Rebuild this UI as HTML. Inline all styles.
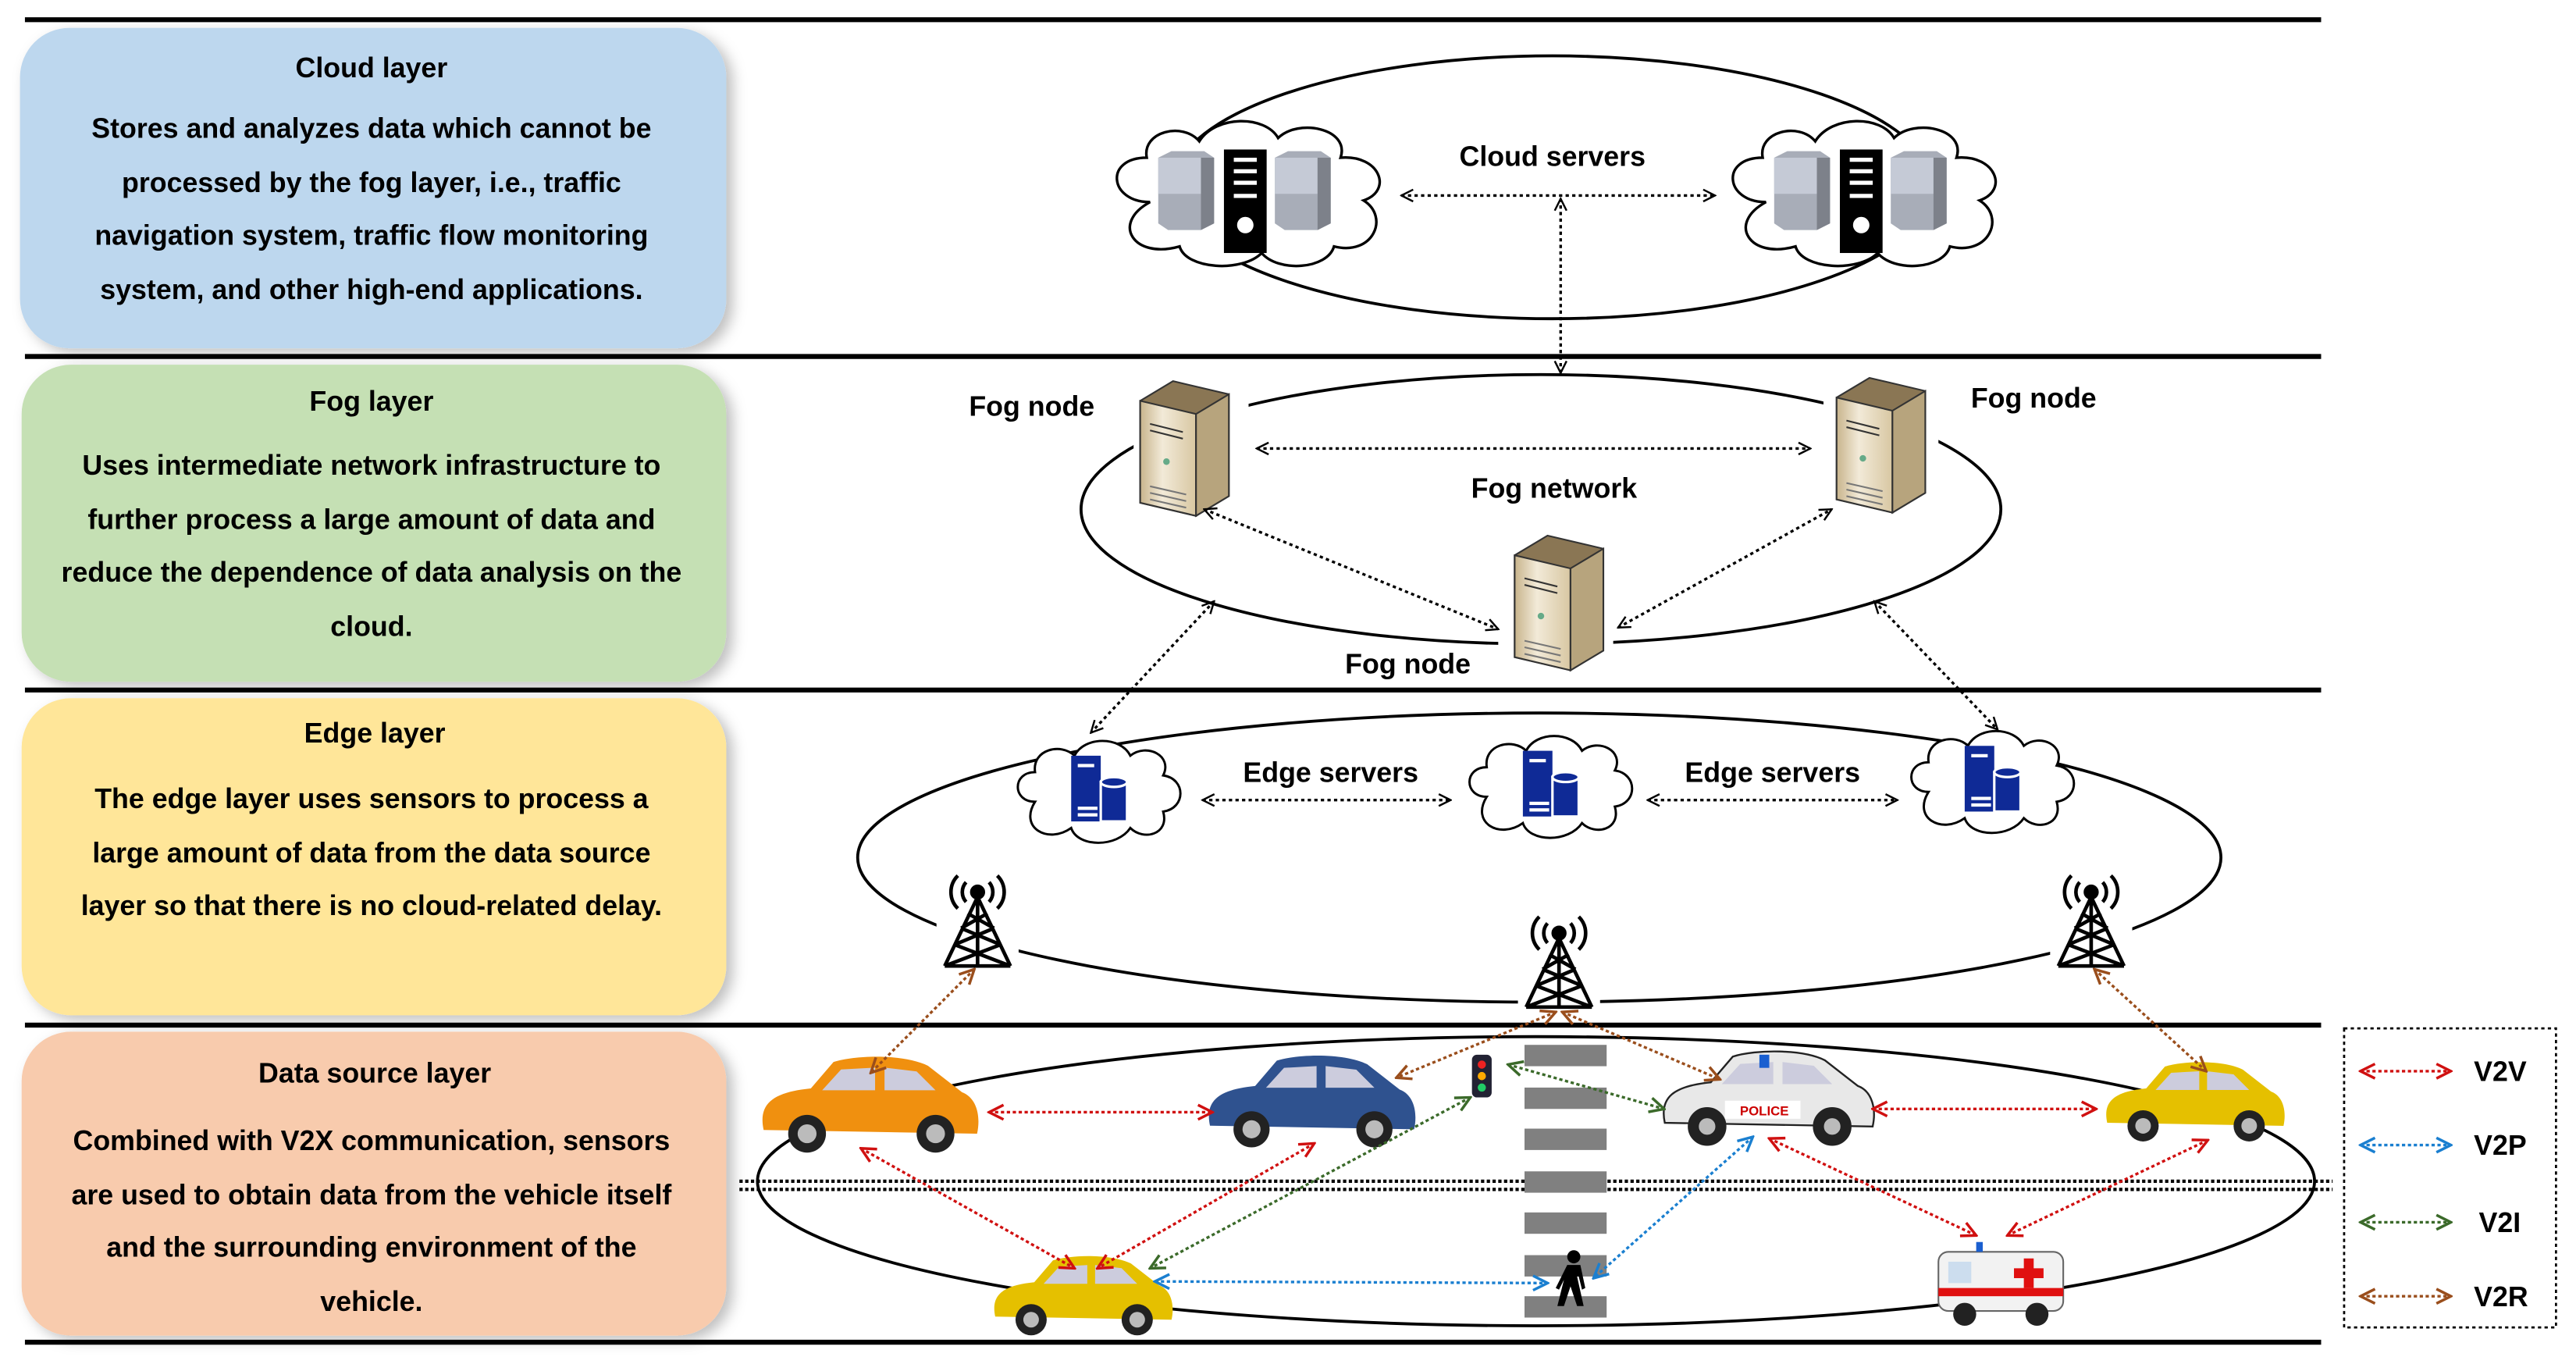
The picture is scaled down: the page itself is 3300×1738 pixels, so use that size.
<!DOCTYPE html>
<html><head><meta charset="utf-8"><style>
html,body{margin:0;padding:0;background:#fff;}
svg{display:block;}
text{font-family:"Liberation Sans",sans-serif;font-weight:bold;fill:#000;}
</style></head><body>
<svg width="3300" height="1738" viewBox="0 0 1568 826" xmlns="http://www.w3.org/2000/svg">
<defs>
<filter id="sh" x="-10%" y="-10%" width="125%" height="125%"><feDropShadow dx="4" dy="3" stdDeviation="4" flood-color="#000" flood-opacity="0.25"/></filter>
<marker id="mk" viewBox="0 0 10 10" refX="9" refY="5" markerWidth="9" markerHeight="9" orient="auto-start-reverse" markerUnits="userSpaceOnUse"><path d="M1,1 L9,5 L1,9" fill="none" stroke="#000" stroke-width="1.3"/></marker>
<marker id="mr" viewBox="0 0 10 10" refX="9" refY="5" markerWidth="11" markerHeight="11" orient="auto-start-reverse" markerUnits="userSpaceOnUse"><path d="M1,1 L9,5 L1,9" fill="none" stroke="#d01010" stroke-width="1.5"/></marker>
<marker id="mb" viewBox="0 0 10 10" refX="9" refY="5" markerWidth="11" markerHeight="11" orient="auto-start-reverse" markerUnits="userSpaceOnUse"><path d="M1,1 L9,5 L1,9" fill="none" stroke="#1a7fd0" stroke-width="1.5"/></marker>
<marker id="mg" viewBox="0 0 10 10" refX="9" refY="5" markerWidth="11" markerHeight="11" orient="auto-start-reverse" markerUnits="userSpaceOnUse"><path d="M1,1 L9,5 L1,9" fill="none" stroke="#3b6a2a" stroke-width="1.5"/></marker>
<marker id="mo" viewBox="0 0 10 10" refX="9" refY="5" markerWidth="11" markerHeight="11" orient="auto-start-reverse" markerUnits="userSpaceOnUse"><path d="M1,1 L9,5 L1,9" fill="none" stroke="#9a4e1c" stroke-width="1.5"/></marker>
<g id="cloud"><path d="M-60,5 C-85,5 -88,-22 -62,-22 C-65,-38 -40,-44 -30,-32 C-20,-48 10,-48 18,-34 C30,-46 62,-40 56,-22 C80,-24 88,-2 70,4 C86,14 76,38 52,32 C48,46 18,48 8,36 C-4,48 -38,46 -42,32 C-70,40 -84,18 -60,5 Z" fill="#fff" stroke="#000" stroke-width="1.6"/></g>
<g id="cs">
<use href="#cloud"/>
<path d="M-55,-22 l8,-4 h20 l6,4 v40 l-8,4 h-20 l-6,-4 z" fill="#a8adb8"/><path d="M-55,-22 h26 v22 h-26z" fill="#c5cad6"/><path d="M-29,-22 h8 v40 l-8,4z" fill="#7d818a"/>
<rect x="-15" y="-27" width="26" height="63" fill="#000"/>
<rect x="-9" y="-22" width="14" height="2.5" fill="#fff"/><rect x="-9" y="-15" width="14" height="2.5" fill="#fff"/><rect x="-9" y="-8" width="14" height="2.5" fill="#fff"/><rect x="-9" y="0" width="14" height="2.5" fill="#fff"/><circle cx="-2" cy="19" r="5" fill="#fff"/>
<path d="M16,-22 l8,-4 h20 l6,4 v40 l-8,4 h-20 l-6,-4 z" fill="#a8adb8"/><path d="M16,-22 h26 v22 h-26z" fill="#c5cad6"/><path d="M42,-22 h8 v40 l-8,4z" fill="#7d818a"/>
</g>
<linearGradient id="fg" x1="0" x2="1"><stop offset="0" stop-color="#c8b48c"/><stop offset="0.4" stop-color="#f2ead8"/><stop offset="1" stop-color="#d8c7a2"/></linearGradient>
<g id="fs">
<path d="M-28,-32 l20,-12 l34,8 l0,62 l-20,12 l-34,-8z" fill="#8a7654" stroke="#333" stroke-width="1"/>
<path d="M-28,-32 l34,8 v62 l-34,-8z" fill="url(#fg)" stroke="#333" stroke-width="1"/>
<path d="M6,-24 l20,-12 v62 l-20,12z" fill="#b7a47d" stroke="#333" stroke-width="1"/>
<path d="M-22,-18 l20,5 M-22,-14 l20,5" stroke="#333" stroke-width="1"/>
<circle cx="-12" cy="5" r="2" fill="#6a8" /><path d="M-22,20 l22,5 M-22,24 l22,5 M-22,28 l22,5" stroke="#777" stroke-width="1"/>
</g>
<g id="es">
<path d="M-38,6 C-52,6 -52,-12 -38,-12 C-40,-26 -22,-30 -14,-22 C-8,-34 14,-34 20,-22 C30,-30 46,-22 40,-10 C54,-8 54,10 40,12 C44,26 28,30 20,22 C12,34 -12,34 -16,22 C-30,32 -48,22 -38,6Z" fill="#fff" stroke="#000" stroke-width="1.4"/>
<rect x="-16" y="-22" width="18" height="40" fill="#0f2a96"/><rect x="-12" y="-17" width="10" height="2" fill="#fff"/><rect x="-12" y="9" width="12" height="2" fill="#fff"/><rect x="-12" y="13" width="12" height="2" fill="#fff"/>
<rect x="2" y="-6" width="16" height="24" fill="#0f2a96" stroke="#fff" stroke-width="1.5"/><ellipse cx="10" cy="-6" rx="8" ry="3" fill="#0f2a96" stroke="#fff" stroke-width="1.5"/>
</g>
<g id="tw" fill="none" stroke="#000" stroke-width="2.2">
<circle cx="0" cy="-20" r="3.5" fill="#000"/>
<path d="M-7,-26 a9,9 0 0,0 0,12 M7,-26 a9,9 0 0,1 0,12 M-12,-30 a14,14 0 0,0 0,20 M12,-30 a14,14 0 0,1 0,20"/>
<path d="M0,-17 L-20,25 M0,-17 L20,25 M0,-17 V25 M-20,25 L14,12 M20,25 L-14,12 M-14,12 L10,2 M14,12 L-10,2 M-10,2 L6,-7 M10,2 L-6,-7 M-20,25 H20"/>
</g>
<g id="car">
<path d="M-55,12 C-58,-2 -50,-8 -30,-10 L-18,-24 C-5,-28 20,-28 32,-22 L50,-8 C58,-5 60,5 58,14 Z"/>
<path d="M-14,-20 L-24,-9 H4 V-21 Z M9,-21 V-9 H36 L26,-19 Z" fill="#ccd" stroke="none"/>
<circle cx="-32" cy="14" r="10" fill="#222"/><circle cx="-32" cy="14" r="5" fill="#bbb"/>
<circle cx="36" cy="14" r="10" fill="#222"/><circle cx="36" cy="14" r="5" fill="#bbb"/>
</g>
</defs>

<!-- layer lines -->
<g stroke="#000" stroke-width="3">
<line x1="15" y1="12" x2="1413" y2="12"/><line x1="15" y1="217" x2="1413" y2="217"/><line x1="15" y1="420" x2="1413" y2="420"/><line x1="15" y1="624" x2="1413" y2="624"/><line x1="15" y1="817" x2="1413" y2="817"/>
</g>

<!-- left boxes -->
<rect x="12" y="17" width="430" height="195" rx="30" fill="#bdd7ee" filter="url(#sh)"/>
<rect x="13" y="222" width="429" height="193" rx="30" fill="#c5e0b4" filter="url(#sh)"/>
<rect x="13" y="425" width="429" height="193" rx="30" fill="#ffe699" filter="url(#sh)"/>
<rect x="13" y="628" width="429" height="185" rx="30" fill="#f8cbad" filter="url(#sh)"/>
<g font-size="17" text-anchor="middle">
<text x="226" y="47">Cloud layer</text>
<text x="226" y="84">Stores and analyzes data which cannot be</text>
<text x="226" y="117">processed by the fog layer, i.e., traffic</text>
<text x="226" y="149">navigation system, traffic flow monitoring</text>
<text x="226" y="182">system, and other high-end applications.</text>
<text x="226" y="250">Fog layer</text>
<text x="226" y="289">Uses intermediate network infrastructure to</text>
<text x="226" y="322">further process a large amount of data and</text>
<text x="226" y="354">reduce the dependence of data analysis on the</text>
<text x="226" y="387">cloud.</text>
<text x="228" y="452">Edge layer</text>
<text x="226" y="492">The edge layer uses sensors to process a</text>
<text x="226" y="525">large amount of data from the data source</text>
<text x="226" y="557">layer so that there is no cloud-related delay.</text>
<text x="228" y="659">Data source layer</text>
<text x="226" y="700">Combined with V2X communication, sensors</text>
<text x="226" y="733">are used to obtain data from the vehicle itself</text>
<text x="226" y="765">and the surrounding environment of the</text>
<text x="226" y="798">vehicle.</text>
</g>

<!-- ellipses -->
<g fill="none" stroke="#000" stroke-width="1.8">
<ellipse cx="945" cy="114" rx="232" ry="80"/>
<ellipse cx="938" cy="310" rx="280" ry="82"/>
<ellipse cx="937" cy="522" rx="415" ry="88"/>
<ellipse cx="935" cy="719" rx="474" ry="88"/>
</g>

<!-- cloud layer -->
<use href="#cs" x="760" y="118"/>
<use href="#cs" x="1135" y="118"/>
<text x="945" y="101" font-size="17" text-anchor="middle">Cloud servers</text>
<g stroke="#000" stroke-width="1.6" stroke-dasharray="2,2" fill="none">
<line x1="853" y1="119" x2="1044" y2="119" marker-start="url(#mk)" marker-end="url(#mk)"/>
<line x1="950" y1="121" x2="950" y2="227" marker-start="url(#mk)" marker-end="url(#mk)"/>
</g>

<!-- fog layer -->
<rect x="690" y="230" width="70" height="90" fill="#fff"/>
<rect x="1110" y="228" width="70" height="92" fill="#fff"/>
<rect x="912" y="322" width="70" height="92" fill="#fff"/>
<use href="#fs" x="722" y="276"/>
<use href="#fs" x="1146" y="274"/>
<use href="#fs" x="950" y="370"/>
<g font-size="17" text-anchor="middle">
<text x="628" y="253">Fog node</text>
<text x="1238" y="248">Fog node</text>
<text x="857" y="410">Fog node</text>
<text x="946" y="303">Fog network</text>
</g>
<g stroke="#000" stroke-width="1.6" stroke-dasharray="2,2" fill="none">
<line x1="765" y1="273" x2="1102" y2="273" marker-start="url(#mk)" marker-end="url(#mk)"/>
<line x1="733" y1="310" x2="912" y2="383" marker-start="url(#mk)" marker-end="url(#mk)"/>
<line x1="985" y1="382" x2="1115" y2="310" marker-start="url(#mk)" marker-end="url(#mk)"/>
<line x1="739" y1="366" x2="664" y2="446" marker-start="url(#mk)" marker-end="url(#mk)"/>
<line x1="1141" y1="366" x2="1216" y2="444" marker-start="url(#mk)" marker-end="url(#mk)"/>
</g>

<!-- edge layer -->
<use href="#es" x="668" y="482"/>
<use href="#es" x="943" y="479"/>
<use href="#es" x="1212" y="476"/>
<g font-size="17" text-anchor="middle">
<text x="810" y="476">Edge servers</text>
<text x="1079" y="476">Edge servers</text>
</g>
<g stroke="#000" stroke-width="1.6" stroke-dasharray="2,2" fill="none">
<line x1="732" y1="487" x2="883" y2="487" marker-start="url(#mk)" marker-end="url(#mk)"/>
<line x1="1003" y1="487" x2="1155" y2="487" marker-start="url(#mk)" marker-end="url(#mk)"/>
</g>
<rect x="570" y="530" width="50" height="62" fill="#fff"/>
<rect x="924" y="555" width="50" height="62" fill="#fff"/>
<rect x="1248" y="530" width="50" height="62" fill="#fff"/>
<use href="#tw" x="595" y="563"/>
<use href="#tw" x="949" y="588"/>
<use href="#tw" x="1273" y="563"/>

<!-- data source layer -->
<g stroke="#000" stroke-width="2" stroke-dasharray="2,1.5">
<line x1="450" y1="719" x2="1420" y2="719"/><line x1="450" y1="724" x2="1420" y2="724"/>
</g>
<g fill="#808080">
<rect x="928" y="636" width="50" height="13"/><rect x="928" y="662" width="50" height="13"/><rect x="928" y="687" width="50" height="13"/><rect x="928" y="713" width="50" height="13"/><rect x="928" y="738" width="50" height="13"/><rect x="928" y="764" width="50" height="13"/><rect x="928" y="789" width="50" height="13"/>
</g>
<!-- vehicles -->
<g transform="translate(528,674) scale(1.15)"><use href="#car" fill="#f0900f"/></g>
<g transform="translate(797,672) scale(1.1)"><use href="#car" fill="#2f528f"/></g>
<g transform="translate(1075,670) scale(1.12)"><use href="#car" fill="#e8e8e8" stroke="#222" stroke-width="1"/></g>
<rect x="1050" y="670" width="46" height="11" fill="#fff"/><text x="1074" y="679" font-size="8" text-anchor="middle" style="fill:#c00">POLICE</text>
<rect x="1071" y="642" width="6" height="8" fill="#1a5fd0"/>
<g transform="translate(1335,672) scale(0.95)"><use href="#car" fill="#e5c000"/></g>
<g transform="translate(658,790) scale(0.95)"><use href="#car" fill="#e5c000"/></g>
<!-- ambulance -->
<rect x="1180" y="762" width="76" height="36" rx="6" fill="#f2f2f2" stroke="#666" stroke-width="1"/>
<rect x="1180" y="784" width="76" height="5" fill="#e01010"/>
<rect x="1186" y="768" width="14" height="13" fill="#cde"/>
<path d="M1232,766 h6 v6 h6 v6 h-6 v6 h-6 v-6 h-6 v-6 h6z" fill="#e01010"/>
<rect x="1203" y="756" width="4" height="6" fill="#1a5fd0"/>
<circle cx="1196" cy="800" r="7" fill="#222"/><circle cx="1240" cy="800" r="7" fill="#222"/>
<!-- traffic light -->
<rect x="896" y="642" width="12" height="26" rx="3" fill="#223"/>
<circle cx="902" cy="648" r="2.5" fill="#e22"/><circle cx="902" cy="655" r="2.5" fill="#fa0"/><circle cx="902" cy="662" r="2.5" fill="#2c6"/>
<!-- pedestrian -->
<g fill="#000"><circle cx="958" cy="765" r="4"/><path d="M954,770 h8 l3,14 l-2,1 l-2,-8 l-1,0 l4,18 h-4 l-4,-12 l-4,12 h-4 l4,-16 l-3,6 l-2,-1z"/></g>

<!-- V2X arrows -->
<g stroke-width="1.6" stroke-dasharray="2,1.6" fill="none">
<g stroke="#d01010">
<line x1="602" y1="677" x2="738" y2="677" marker-start="url(#mr)" marker-end="url(#mr)"/>
<line x1="1140" y1="675" x2="1276" y2="675" marker-start="url(#mr)" marker-end="url(#mr)"/>
<line x1="524" y1="699" x2="654" y2="772" marker-start="url(#mr)" marker-end="url(#mr)"/>
<line x1="800" y1="696" x2="668" y2="772" marker-start="url(#mr)" marker-end="url(#mr)"/>
<line x1="1077" y1="693" x2="1203" y2="752" marker-start="url(#mr)" marker-end="url(#mr)"/>
<line x1="1344" y1="694" x2="1222" y2="752" marker-start="url(#mr)" marker-end="url(#mr)"/>
</g>
<g stroke="#1a7fd0">
<line x1="703" y1="780" x2="942" y2="781" marker-start="url(#mb)" marker-end="url(#mb)"/>
<line x1="1067" y1="692" x2="970" y2="778" marker-start="url(#mb)" marker-end="url(#mb)"/>
</g>
<g stroke="#3b6a2a">
<line x1="895" y1="668" x2="700" y2="772" marker-start="url(#mg)" marker-end="url(#mg)"/>
<line x1="918" y1="648" x2="1013" y2="675" marker-start="url(#mg)" marker-end="url(#mg)"/>
</g>
<g stroke="#9a4e1c">
<line x1="593" y1="590" x2="530" y2="653" marker-start="url(#mo)" marker-end="url(#mo)"/>
<line x1="947" y1="616" x2="850" y2="656" marker-start="url(#mo)" marker-end="url(#mo)"/>
<line x1="951" y1="616" x2="1047" y2="657" marker-start="url(#mo)" marker-end="url(#mo)"/>
<line x1="1275" y1="590" x2="1343" y2="652" marker-start="url(#mo)" marker-end="url(#mo)"/>
</g>
</g>

<!-- legend -->
<rect x="1427" y="626" width="129" height="182" fill="none" stroke="#000" stroke-width="1.3" stroke-dasharray="2,2"/>
<g stroke-width="1.6" stroke-dasharray="2,1.6" fill="none">
<line x1="1437" y1="652" x2="1492" y2="652" stroke="#d01010" marker-start="url(#mr)" marker-end="url(#mr)"/>
<line x1="1437" y1="697" x2="1492" y2="697" stroke="#1a7fd0" marker-start="url(#mb)" marker-end="url(#mb)"/>
<line x1="1437" y1="744" x2="1492" y2="744" stroke="#3b6a2a" marker-start="url(#mg)" marker-end="url(#mg)"/>
<line x1="1437" y1="789" x2="1492" y2="789" stroke="#9a4e1c" marker-start="url(#mo)" marker-end="url(#mo)"/>
</g>
<g font-size="17">
<text x="1506" y="658">V2V</text><text x="1506" y="703">V2P</text><text x="1509" y="750">V2I</text><text x="1506" y="795">V2R</text>
</g>
</svg>
</body></html>
